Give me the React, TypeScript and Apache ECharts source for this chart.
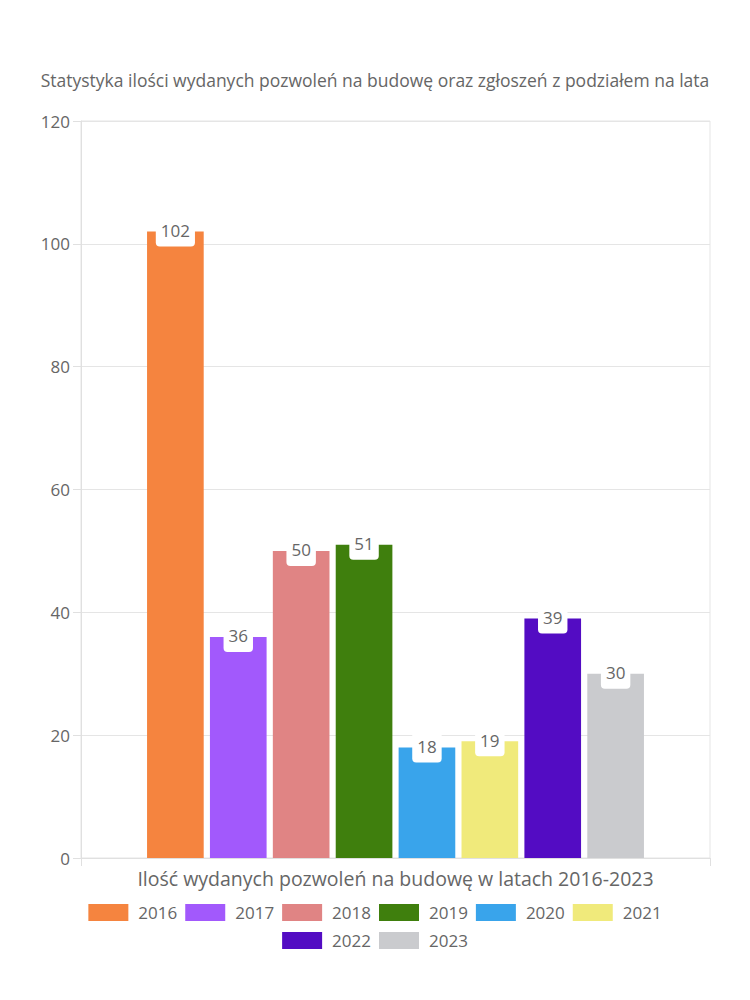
import React, { useEffect, useRef } from "react";
import * as echarts from "echarts";

const titleText = "Statystyka ilości wydanych pozwoleń na budowę oraz zgłoszeń z podziałem na lata";
const categories = ["Ilość wydanych pozwoleń na budowę w latach 2016-2023"];
const years = ["2016", "2017", "2018", "2019", "2020", "2021", "2022", "2023"];
const values = [102, 36, 50, 51, 18, 19, 39, 30];
const colors = ["#F5843F", "#A259FC", "#E08484", "#3F7F0D", "#39A4EB", "#F0EA7B", "#530CC3", "#CACBCE"];
const legendRow1 = years.slice(0, 6);
const legendRow2 = years.slice(6);

const FONT = "Open Sans";

const legendBase = {
  left: "center",
  itemWidth: 40,
  itemHeight: 17,
  itemGap: 8,
  icon: "rect",
  textStyle: { fontFamily: FONT, fontSize: 17, color: "#666", padding: [0, 0, 0, 5] },
};

export default function App() {
  const ref = useRef<HTMLDivElement>(null);
  useEffect(() => {
    const chart = echarts.init(ref.current!, null, { renderer: "svg" });
    chart.setOption({
      animation: false,
      textStyle: { fontFamily: FONT },
      title: {
        text: titleText,
        left: "center",
        top: 66,
        textStyle: { fontFamily: FONT, fontSize: 17.5, fontWeight: "normal", color: "#666" },
      },
      legend: [
        { ...legendBase, data: legendRow1, top: 899 },
        { ...legendBase, data: legendRow2, top: 927 },
      ],
      grid: {
        left: 81,
        right: 40,
        top: 121,
        bottom: 142,
        show: true,
        borderColor: "#e5e5e5",
        borderWidth: 1,
      },
      xAxis: {
        type: "category",
        data: categories,
        axisLine: { lineStyle: { color: "#e0e0e0" } },
        axisTick: { show: true, length: 8, lineStyle: { color: "#e0e0e0" } },
        axisLabel: { fontFamily: FONT, fontSize: 19.5, color: "#666", margin: 10 },
      },
      yAxis: {
        type: "value",
        min: 0,
        max: 120,
        interval: 20,
        axisLine: { show: true, lineStyle: { color: "#e0e0e0" } },
        axisTick: { show: true, length: 8, lineStyle: { color: "#e0e0e0" } },
        splitLine: { lineStyle: { color: "#e5e5e5" } },
        axisLabel: { fontFamily: FONT, fontSize: 17, color: "#666", margin: 11 },
      },
      series: years.map((y, i) => ({
        name: y,
        type: "bar",
        data: [values[i]],
        barCategoryGap: "21%",
        barGap: "11%",
        itemStyle: { color: colors[i] },
        label: {
          show: true,
          position: "top",
          distance: -15,
          fontFamily: FONT,
          fontSize: 17,
          color: "#666",
          backgroundColor: "#fff",
          borderRadius: 4,
          padding: [8, 5],
          lineHeight: 16,
        },
      })),
    });
    return () => chart.dispose();
  }, []);
  return (
    <div
      ref={ref}
      style={{ position: "fixed", left: 0, top: 0, width: 750, height: 1000, background: "#fff" }}
    />
  );
}
